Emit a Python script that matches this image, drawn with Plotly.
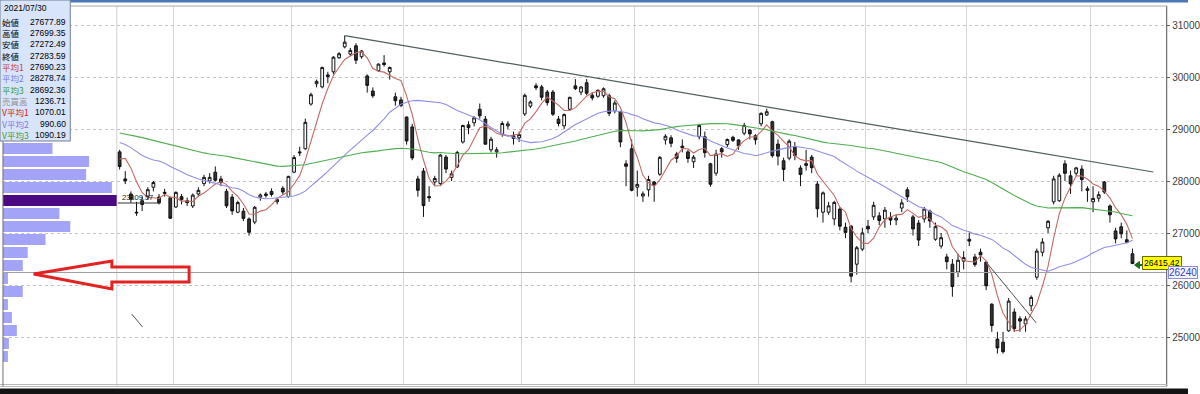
import numpy as np
import plotly.graph_objects as go

W, H = 1200, 394

# ---------------- data ----------------
dates = [
 "2021-07-15","2021-07-16","2021-07-19","2021-07-20","2021-07-21","2021-07-26","2021-07-27","2021-07-28","2021-07-29","2021-07-30",
 "2021-08-02","2021-08-03","2021-08-04","2021-08-05","2021-08-06","2021-08-10","2021-08-11","2021-08-12","2021-08-13","2021-08-16",
 "2021-08-17","2021-08-18","2021-08-19","2021-08-20","2021-08-23","2021-08-24","2021-08-25","2021-08-26","2021-08-27","2021-08-30","2021-08-31",
 "2021-09-01","2021-09-02","2021-09-03","2021-09-06","2021-09-07","2021-09-08","2021-09-09","2021-09-10","2021-09-13","2021-09-14",
 "2021-09-15","2021-09-16","2021-09-17","2021-09-21","2021-09-22","2021-09-24","2021-09-27","2021-09-28","2021-09-29","2021-09-30",
 "2021-10-01","2021-10-04","2021-10-05","2021-10-06","2021-10-07","2021-10-08","2021-10-11","2021-10-12","2021-10-13","2021-10-14",
 "2021-10-15","2021-10-18","2021-10-19","2021-10-20","2021-10-21","2021-10-22","2021-10-25","2021-10-26","2021-10-27","2021-10-28","2021-10-29",
 "2021-11-01","2021-11-02","2021-11-04","2021-11-05","2021-11-08","2021-11-09","2021-11-10","2021-11-11","2021-11-12","2021-11-15",
 "2021-11-16","2021-11-17","2021-11-18","2021-11-19","2021-11-22","2021-11-24","2021-11-25","2021-11-26","2021-11-29","2021-11-30",
 "2021-12-01","2021-12-02","2021-12-03","2021-12-06","2021-12-07","2021-12-08","2021-12-09","2021-12-10","2021-12-13","2021-12-14",
 "2021-12-15","2021-12-16","2021-12-17","2021-12-20","2021-12-21","2021-12-22","2021-12-23","2021-12-24","2021-12-27","2021-12-28",
 "2021-12-29","2021-12-30",
 "2022-01-04","2022-01-05","2022-01-06","2022-01-07","2022-01-11","2022-01-12","2022-01-13","2022-01-14","2022-01-17","2022-01-18",
 "2022-01-19","2022-01-20","2022-01-21","2022-01-24","2022-01-25","2022-01-26","2022-01-27","2022-01-28","2022-01-31",
 "2022-02-01","2022-02-02","2022-02-03","2022-02-04","2022-02-07","2022-02-08","2022-02-09","2022-02-10","2022-02-14","2022-02-15",
 "2022-02-16","2022-02-17","2022-02-18","2022-02-21","2022-02-22","2022-02-24","2022-02-25","2022-02-28",
 "2022-03-01","2022-03-02","2022-03-03","2022-03-04","2022-03-07","2022-03-08","2022-03-09","2022-03-10","2022-03-11","2022-03-14",
 "2022-03-15","2022-03-16","2022-03-17","2022-03-18","2022-03-22","2022-03-23","2022-03-24","2022-03-25","2022-03-28","2022-03-29",
 "2022-03-30","2022-03-31",
 "2022-04-01","2022-04-04","2022-04-05","2022-04-06","2022-04-07","2022-04-08","2022-04-11","2022-04-12",
]

opens = [
 28560,28040,27750,27400,27620,27700,27880,27690,27760,27678,
 27500,27700,27620,27520,27750,27950,28000,28170,28040,27800,27690,27400,27420,27270,27210,27690,27750,27800,27600,27860,27700,
 28170,28560,28620,29480,29870,29810,30040,30100,30370,30580,30440,30600,30390,30020,29730,30120,30270,30100,29620,29560,
 29230,29040,28040,28190,27700,27980,27950,28460,28070,28270,28750,29080,29120,29380,29190,28600,28560,28900,29060,28870,28830,
 29290,29440,29830,29810,29710,29710,29190,29060,29380,29830,29710,29890,29650,29630,29640,29640,29350,29330,28330,28620,
 27880,27710,27830,27980,28130,28790,28830,28520,28670,28560,28370,28850,28850,28330,28150,28620,28700,28840,28790,28920,28980,28870,
 29100,29270,29140,28710,28390,28440,28650,28250,28300,28460,27940,27400,27400,27270,27460,27110,27130,26400,26690,
 27130,27310,27330,27270,27300,27250,27480,27830,27310,27190,27270,27420,26880,26750,26540,26400,26250,26460,
 26880,26540,26630,26440,25630,24960,24900,25120,25480,25350,25250,25600,26150,26630,27100,27600,27620,28330,28100,28150,28230,27850,
 27600,27670,27980,27520,27040,27120,26870,26600,
]
highs = [
 28600,28190,27800,27600,27700,27880,28000,27750,27850,27699,
 27800,27750,27680,27760,27880,28120,28150,28280,28100,27850,27750,27620,27480,27300,27520,27760,27790,27860,27680,27900,28100,
 28500,28660,29200,29700,29950,30200,30100,30400,30480,30795,30560,30650,30520,30050,29800,30260,30420,30200,29700,29620,
 29240,29100,28100,28250,27900,28100,28520,28500,28200,28580,29080,29150,29250,29490,29250,28850,28650,29150,29150,28950,28950,
 29680,29550,29880,29850,29750,29750,29250,29300,29620,29960,29820,29960,29700,29760,29800,29680,29550,29350,28400,28800,
 28200,27800,28100,28000,28480,28900,28880,28560,28800,28600,28500,29100,28950,28350,28600,28650,28820,28870,28800,29120,29000,28900,
 29320,29390,29160,28800,28450,28800,28750,28300,28600,28500,28000,27800,27600,27620,27500,27200,27150,26750,27100,
 27250,27600,27400,27500,27400,27350,27650,27880,27350,27250,27500,27450,27200,27000,26600,26500,26600,26650,
 27010,26600,26700,26450,25650,25100,25100,25750,25550,25400,25400,25800,26700,26900,27250,28100,28150,28400,28200,28270,28300,27900,
 27900,27800,28000,27550,27100,27200,27050,26700,
]
lows = [
 28220,27940,27580,27330,27420,27650,27800,27550,27700,27272,
 27480,27550,27520,27480,27700,27900,27950,27990,27900,27480,27350,27380,27230,26950,27170,27620,27680,27700,27550,27740,27680,
 28150,28480,28600,29450,29800,29780,29880,30050,30350,30550,30400,30250,30350,29700,29600,30100,30200,29950,29450,29420,
 28700,28400,27700,27310,27600,27900,27900,28150,28000,28250,28720,28900,29050,29200,28700,28550,28450,28850,29000,28700,28750,
 29250,29400,29750,29550,29450,29250,29050,29000,29350,29750,29650,29650,29550,29600,29600,29250,29300,28650,27900,27800,
 27700,27600,27700,27600,28100,28700,28650,28350,28550,28350,28250,28800,28450,27890,28100,28450,28650,28750,28600,28880,28800,28700,
 29050,29250,28450,28300,28000,28400,28400,27900,28200,28150,27300,27200,27350,27150,27050,26900,26050,26200,26650,
 27000,27250,27150,27100,27150,27150,27400,27600,26950,26750,27200,27100,26850,26700,26300,25775,26150,26300,
 26750,26350,26450,25900,25100,24680,24681,25100,25100,25100,25100,25500,26100,26550,27000,27550,27600,28000,27750,28100,27800,27600,
 27400,27600,27750,27200,26800,26900,26800,26400,
]
closes = [
 28279,28003,27652,27388,27548,27833,27970,27581,27782,27284,
 27781,27641,27584,27728,27820,28070,28070,28015,27977,27523,27424,27585,27281,27013,27494,27732,27724,27742,27641,27789,28089,
 28451,28543,29128,29659,29916,30181,30008,30381,30447,30670,30511,30323,30500,29839,29639,30248,30240,30183,29544,29452,
 28771,28444,27822,27528,27678,28048,28498,28230,28140,28550,29068,29025,29215,29255,28708,28804,28600,29106,29098,28820,28892,
 29647,29520,29794,29611,29507,29285,29106,29277,29609,29776,29808,29688,29598,29745,29774,29302,29499,28751,28283,27821,
 27935,27753,28029,27927,28455,28860,28725,28437,28640,28432,28459,29066,28545,27937,28517,28562,28798,28782,28676,29069,28906,28791,
 29301,29332,28487,28478,28222,28765,28489,28124,28333,28257,27467,27772,27522,27588,27131,27011,26170,26717,27001,
 27078,27533,27241,27439,27248,27284,27579,27696,27079,26865,27460,27232,27122,26910,26449,25970,26476,26526,
 26844,26393,26577,25985,25221,24790,24717,25690,25162,25307,25346,25762,26652,26827,27224,28040,28110,28149,27943,28252,28027,27821,
 27665,27736,27787,27350,26888,26985,26821,26415,
]
# closes before the visible window (used only for the moving averages)
history_closes = [
 29176,29384,29432,29178,
 29388,29854,30089,29696,29730,29708,29768,29538,29751,29620,29642,29683,29685,29100,28508,29188,29020,29126,28991,29053,28812,
 29331,29357,29518,28608,28147,27448,28084,27824,28406,28044,28098,28317,28364,28553,28642,28549,29149,28860,
 28814,28946,29058,28941,29019,28963,28860,28958,28948,29161,29441,29291,29018,28964,28010,28884,28874,28875,29066,29048,28812,28791,
 28707,28783,28598,28643,28366,28118,27940,28569,28718,28608,
]
ma_periods = [5, 25, 75]

# volume-by-price profile (bin lower edges, volume)
vp_bin_low = [28500,28250,28000,27750,27500,27250,27000,26750,26500,26250,26000,25750,25500,25250,25000,24750,24500]
vp_volume  = [50,87,84,110,115,57,68,43,25,20,5,20,5,9,14,6,5]
vp_bin_size = 250

y_ticks = [25000,26000,27000,28000,29000,30000,31000]

trend_idx = [40, 183.7]
trend_price = [30795, 28173]
trend2_idx = [154, 162.9]
trend2_price = [26440, 25270]

current_price = 26415.42
cursor_price = 26240

info_date = "2021/07/30"
info_labels = ["始値","高値","安値","終値","平均1","平均2","平均3","売買高","V平均1","V平均2","V平均3"]
info_values = ["27677.89","27699.35","27272.49","27283.59","27690.23","28278.74","28692.36","1236.71","1070.01","990.60","1090.19"]
info_colors = ["#000000","#000000","#000000","#000000","#c04040","#7b7be0","#3a9a3a","#909090","#d02020","#7b7be0","#3a9a3a"]

# ---------------- helpers ----------------
def px(x): return x / W
def py(y): return 1 - y / H
def ypx_to_price(y):
    return 25000 + (337 - y) / 0.052

idx = list(range(len(dates)))
all_closes = np.array(history_closes + closes, dtype=float)
n_hist = len(history_closes)

def sma(n):
    out = np.convolve(all_closes, np.ones(n) / n, mode="valid")
    end_idx = np.arange(n - 1, len(all_closes))
    vals = dict(zip(end_idx, out))
    return [vals[n_hist + i] for i in idx]

ma_colors = ["#c46a64", "#8f8fe8", "#4fae4f"]

month_bounds = [-0.5] + [i - 0.5 for i in range(1, len(dates)) if dates[i][:7] != dates[i - 1][:7]]

fig = go.Figure()

# volume profile
max_v = max(vp_volume)
vp_colors = ["#4b0a82" if v == max_v else "#a3a3f7" for v in vp_volume]
fig.add_trace(go.Bar(
    orientation="h", x=vp_volume, y=[b + vp_bin_size / 2 for b in vp_bin_low],
    width=vp_bin_size * 0.86, marker=dict(color=vp_colors, line=dict(width=0)),
    xaxis="x2", yaxis="y", hoverinfo="skip", showlegend=False))

# moving averages (drawn under candles)
for n, col in zip(ma_periods, ma_colors):
    fig.add_trace(go.Scatter(x=idx, y=sma(n), mode="lines", line=dict(color=col, width=1.1),
                             hoverinfo="skip", showlegend=False))

fig.add_trace(go.Candlestick(
    x=idx, open=opens, high=highs, low=lows, close=closes,
    increasing=dict(line=dict(color="#111111", width=1), fillcolor="#ffffff"),
    decreasing=dict(line=dict(color="#111111", width=1), fillcolor="#333333"),
    whiskerwidth=0, hoverinfo="skip", showlegend=False))

y_top = ypx_to_price(6)
y_bot = ypx_to_price(385)

fig.update_layout(
    width=W, height=H, margin=dict(l=0, r=0, t=0, b=0),
    paper_bgcolor="#ffffff", plot_bgcolor="#ffffff", showlegend=False,
    xaxis=dict(domain=[px(118), px(1178)], range=[-0.5, 186], tickvals=month_bounds,
               showticklabels=False, ticks="", showgrid=True, gridcolor="#d6d6d6", gridwidth=1,
               zeroline=False, rangeslider=dict(visible=False), anchor="y"),
    xaxis2=dict(domain=[px(3), px(118)], range=[0, 115], visible=False, showgrid=False,
                anchor="y", zeroline=False),
    yaxis=dict(domain=[py(385), py(6)], range=[y_bot, y_top], side="right", anchor="x",
               tickvals=y_ticks, ticktext=[str(t) for t in y_ticks],
               ticks="outside", ticklen=3, tickcolor="#606060",
               tickfont=dict(family="Liberation Sans", size=10, color="#404040"),
               showgrid=True, gridcolor="#c4c4c4", griddash="dot", gridwidth=1, zeroline=False),
)

shapes = []
def line_px(x0, y0, x1, y1, color, width=1, layer="above"):
    shapes.append(dict(type="line", xref="paper", yref="paper", x0=px(x0), y0=py(y0), x1=px(x1), y1=py(y1),
                       line=dict(color=color, width=width), layer=layer))

def path_px(points, color, width=1, fill=None, closed=False, layer="above"):
    d = "M " + " L ".join(f"{px(x):.5f},{py(y):.5f}" for x, y in points)
    if closed:
        d += " Z"
    s = dict(type="path", xref="paper", yref="paper", path=d, line=dict(color=color, width=width), layer=layer)
    if fill:
        s["fillcolor"] = fill
    shapes.append(s)

# frame pieces
line_px(118, 6, 118, 386, "#cfcfcf", 1, "below")
line_px(1178.5, 6, 1178.5, 386, "#505050", 1)
line_px(70, 6, 1179, 6, "#a8a8a8", 1)
line_px(0, 384.5, 1179, 384.5, "#b8b8b8", 1)
line_px(0, 386.5, 1179, 386.5, "#b8b8b8", 1)
shapes.append(dict(type="rect", xref="paper", yref="paper", x0=0, x1=1, y0=0, y1=py(388.5),
                   fillcolor="#141414", line=dict(width=0), layer="above"))
shapes.append(dict(type="rect", xref="paper", yref="paper", x0=px(70), x1=1, y0=py(2.5), y1=1,
                   fillcolor="#4a78b8", line=dict(width=0), layer="above"))
line_px(3, 140, 3, 386, "#707070", 1)

# cursor price line
shapes.append(dict(type="line", xref="paper", yref="y", x0=px(3), x1=px(1178), y0=cursor_price, y1=cursor_price,
                   line=dict(color="#a0a0a0", width=1), layer="above"))

# trend lines
shapes.append(dict(type="line", xref="x", yref="y", x0=trend_idx[0], y0=trend_price[0], x1=trend_idx[1], y1=trend_price[1],
                   line=dict(color="#4d6060", width=1.2), layer="above"))
shapes.append(dict(type="line", xref="x", yref="y", x0=trend2_idx[0], y0=trend2_price[0], x1=trend2_idx[1], y1=trend2_price[1],
                   line=dict(color="#505050", width=1), layer="above"))

# red arrow
path_px([(34, 274), (113, 261), (113, 267), (191, 267), (191, 282), (113, 282), (113, 289)], "#e32222", 3, closed=True)
# stray mark
line_px(133, 314, 144, 327, "#555555", 1)

# "23309.57" tag line
line_px(119, 203, 162, 203, "#333333", 1)

# green marker next to the current price
path_px([(1146, 265), (1151, 261.5), (1151, 268.5)], "#1d6e1d", 1, fill="#1d6e1d", closed=True)
line_px(1150, 265, 1154, 265, "#1d6e1d", 2)

# info box
shapes.append(dict(type="rect", xref="paper", yref="paper", x0=px(0), x1=px(71), y0=py(141), y1=py(0),
                   fillcolor="#d8e4fa", line=dict(color="#6f8096", width=1), layer="above"))

fig.update_layout(shapes=shapes)

ann = []
ann.append(dict(xref="paper", yref="paper", x=px(2), y=py(8.3), text=info_date, showarrow=False,
                xanchor="left", yanchor="middle", font=dict(family="Liberation Sans", size=8.5, color="#000000")))
for i, (lab, val, col) in enumerate(zip(info_labels, info_values, info_colors)):
    yy = 21.7 + i * 11.33
    ann.append(dict(xref="paper", yref="paper", x=px(0), y=py(yy), text=lab, showarrow=False,
                    xanchor="left", yanchor="middle",
                    font=dict(family="Noto Sans CJK JP", size=8.5, color=col)))
    ann.append(dict(xref="paper", yref="paper", x=px(68.5), y=py(yy), text=val, showarrow=False,
                    xanchor="right", yanchor="middle",
                    font=dict(family="Liberation Sans", size=8.5, color="#000000")))

ann.append(dict(xref="paper", yref="paper", x=px(121), y=py(198), text="23309.57", showarrow=False,
                xanchor="left", yanchor="middle", font=dict(family="Liberation Sans", size=7.5, color="#202020")))

ann.append(dict(xref="paper", yref="y", x=px(1154), y=current_price, text=f"{current_price:.2f}", showarrow=False,
                xanchor="left", yanchor="middle", bgcolor="#ffff00", bordercolor="#6b6b00", borderwidth=1, borderpad=1,
                font=dict(family="Liberation Sans", size=8.5, color="#000000")))

ann.append(dict(xref="paper", yref="y", x=px(1180), y=cursor_price, text=str(cursor_price), showarrow=False,
                xanchor="left", yanchor="middle", bgcolor="#f3f3ff", bordercolor="#8a8ad8", borderwidth=1, borderpad=0,
                font=dict(family="Liberation Sans", size=10, color="#3344bb")))

fig.update_layout(annotations=ann)

fig.write_html("out.html")
